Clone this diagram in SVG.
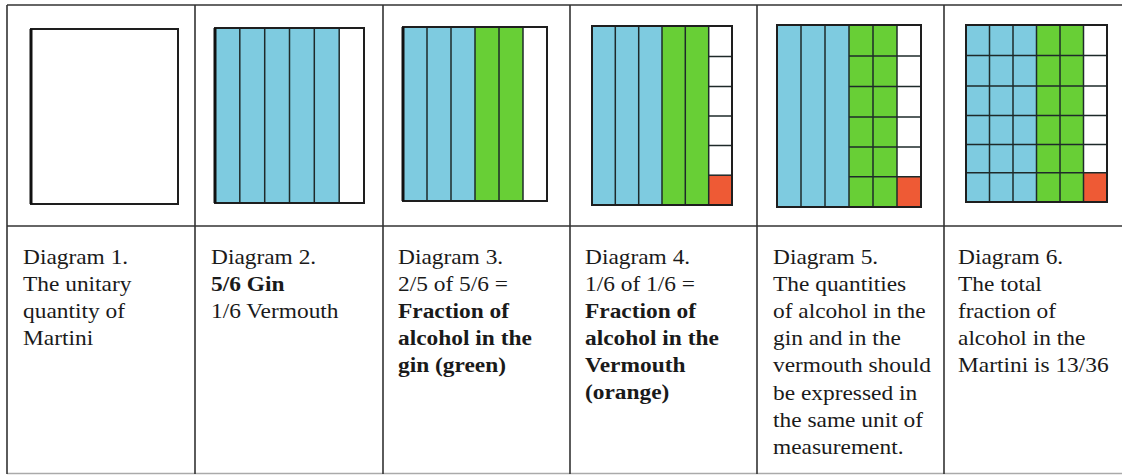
<svg xmlns="http://www.w3.org/2000/svg" width="1122" height="475" viewBox="0 0 1122 475">
<style>
.tbl{stroke:#333;stroke-width:1.6;fill:none}
.bot{stroke:#aaa;stroke-width:1.6}
.sq{fill:none;stroke:#1e1e1e;stroke-width:2}
.dv{stroke:#1e2a2a;stroke-width:1.5}
.b{fill:#7ecbe0}
.g{fill:#68cf36}
.o{fill:#ee5a35}
text{font-family:"Liberation Serif","Times New Roman",serif;font-size:20px;fill:#1a1a1a}
.bd{font-weight:bold}
</style>
<rect width="1122" height="475" fill="#fff"/>
<g id="table">
<line class="tbl" x1="7" y1="5" x2="1122" y2="5"/>
<line class="tbl" x1="7" y1="226" x2="1122" y2="226"/>
<line class="bot" x1="7" y1="473.5" x2="1122" y2="473.5"/>
<line class="tbl" x1="7" y1="5" x2="7" y2="474"/>
<line class="tbl" x1="195" y1="5" x2="195" y2="474"/>
<line class="tbl" x1="383" y1="5" x2="383" y2="474"/>
<line class="tbl" x1="570" y1="5" x2="570" y2="474"/>
<line class="tbl" x1="757" y1="5" x2="757" y2="474"/>
<line class="tbl" x1="944" y1="5" x2="944" y2="474"/>
</g>
<g id="diagram1">
<rect class="sq" x="31" y="29" width="147" height="175"/>
<line x1="31" y1="29" x2="31" y2="204" stroke="#111" stroke-width="3"/>
</g>
<g id="diagram2">
<rect class="b" x="215" y="28" width="124.2" height="175"/>
<line class="dv" x1="239.8" y1="28" x2="239.8" y2="203"/>
<line class="dv" x1="264.7" y1="28" x2="264.7" y2="203"/>
<line class="dv" x1="289.5" y1="28" x2="289.5" y2="203"/>
<line class="dv" x1="314.3" y1="28" x2="314.3" y2="203"/>
<line class="dv" x1="339.2" y1="28" x2="339.2" y2="203"/>
<rect class="sq" x="215" y="28" width="149" height="175"/>
<line x1="215" y1="28" x2="215" y2="203" stroke="#111" stroke-width="3"/>
</g>
<g id="diagram3">
<rect class="b" x="403" y="27" width="72" height="174"/>
<rect class="g" x="475" y="27" width="48" height="174"/>
<line class="dv" x1="427" y1="27" x2="427" y2="201"/>
<line class="dv" x1="451" y1="27" x2="451" y2="201"/>
<line class="dv" x1="475" y1="27" x2="475" y2="201"/>
<line class="dv" x1="499" y1="27" x2="499" y2="201"/>
<line class="dv" x1="523" y1="27" x2="523" y2="201"/>
<rect class="sq" x="403" y="27" width="144" height="174"/>
<line x1="403" y1="27" x2="403" y2="201" stroke="#111" stroke-width="3"/>
</g>
<g id="diagram4">
<rect class="b" x="592" y="26" width="70" height="179"/>
<rect class="g" x="662" y="26" width="46.7" height="179"/>
<rect class="o" x="708.7" y="175.2" width="23.3" height="29.8"/>
<line class="dv" x1="615.3" y1="26" x2="615.3" y2="205"/>
<line class="dv" x1="638.7" y1="26" x2="638.7" y2="205"/>
<line class="dv" x1="662" y1="26" x2="662" y2="205"/>
<line class="dv" x1="685.3" y1="26" x2="685.3" y2="205"/>
<line class="dv" x1="708.7" y1="26" x2="708.7" y2="205"/>
<line class="dv" x1="708.7" y1="56.5" x2="732" y2="56.5"/>
<line class="dv" x1="708.7" y1="86.5" x2="732" y2="86.5"/>
<line class="dv" x1="708.7" y1="116" x2="732" y2="116"/>
<line class="dv" x1="708.7" y1="145.5" x2="732" y2="145.5"/>
<line class="dv" x1="708.7" y1="175.2" x2="732" y2="175.2"/>
<rect class="sq" x="592" y="26" width="140" height="179"/>
</g>
<g id="diagram5">
<rect class="b" x="777" y="25" width="72" height="182"/>
<rect class="g" x="849" y="25" width="48" height="182"/>
<rect class="o" x="897" y="176.7" width="24" height="30.3"/>
<line class="dv" x1="801" y1="25" x2="801" y2="207"/>
<line class="dv" x1="825" y1="25" x2="825" y2="207"/>
<line class="dv" x1="849" y1="25" x2="849" y2="207"/>
<line class="dv" x1="873" y1="25" x2="873" y2="207"/>
<line class="dv" x1="897" y1="25" x2="897" y2="207"/>
<line class="dv" x1="849" y1="56" x2="921" y2="56"/>
<line class="dv" x1="849" y1="86.5" x2="921" y2="86.5"/>
<line class="dv" x1="849" y1="117" x2="921" y2="117"/>
<line class="dv" x1="849" y1="147" x2="921" y2="147"/>
<line class="dv" x1="849" y1="176.7" x2="921" y2="176.7"/>
<rect class="sq" x="777" y="25" width="144" height="182"/>
</g>
<g id="diagram6">
<rect class="b" x="966" y="25" width="70.5" height="177"/>
<rect class="g" x="1036.5" y="25" width="47" height="177"/>
<rect class="o" x="1083.5" y="172.8" width="23.5" height="29.2"/>
<line class="dv" x1="989.5" y1="25" x2="989.5" y2="202"/>
<line class="dv" x1="1013" y1="25" x2="1013" y2="202"/>
<line class="dv" x1="1036.5" y1="25" x2="1036.5" y2="202"/>
<line class="dv" x1="1060" y1="25" x2="1060" y2="202"/>
<line class="dv" x1="1083.5" y1="25" x2="1083.5" y2="202"/>
<line class="dv" x1="966" y1="55.5" x2="1107" y2="55.5"/>
<line class="dv" x1="966" y1="86" x2="1107" y2="86"/>
<line class="dv" x1="966" y1="115.5" x2="1107" y2="115.5"/>
<line class="dv" x1="966" y1="144.5" x2="1107" y2="144.5"/>
<line class="dv" x1="966" y1="172.8" x2="1107" y2="172.8"/>
<rect class="sq" x="966" y="25" width="141" height="177"/>
</g>
<g id="caption1" transform="translate(23,0) scale(1.17,1)">
<text x="0" y="264">Diagram 1.</text>
<text x="0" y="291">The unitary</text>
<text x="0" y="318">quantity of</text>
<text x="0" y="345">Martini</text>
</g>
<g id="caption2" transform="translate(211,0) scale(1.17,1)">
<text x="0" y="264">Diagram 2.</text>
<text x="0" y="291" class="bd">5/6 Gin</text>
<text x="0" y="318">1/6 Vermouth</text>
</g>
<g id="caption3" transform="translate(398,0) scale(1.17,1)">
<text x="0" y="264">Diagram 3.</text>
<text x="0" y="291">2/5 of 5/6 =</text>
<text x="0" y="318" class="bd">Fraction of</text>
<text x="0" y="345" class="bd">alcohol in the</text>
<text x="0" y="372" class="bd">gin (green)</text>
</g>
<g id="caption4" transform="translate(585,0) scale(1.17,1)">
<text x="0" y="264">Diagram 4.</text>
<text x="0" y="291">1/6 of 1/6 =</text>
<text x="0" y="318" class="bd">Fraction of</text>
<text x="0" y="345" class="bd">alcohol in the</text>
<text x="0" y="372" class="bd">Vermouth</text>
<text x="0" y="399" class="bd">(orange)</text>
</g>
<g id="caption5" transform="translate(773,0) scale(1.17,1)">
<text x="0" y="264">Diagram 5.</text>
<text x="0" y="291">The quantities</text>
<text x="0" y="318">of alcohol in the</text>
<text x="0" y="345">gin and in the</text>
<text x="0" y="372">vermouth should</text>
<text x="0" y="400">be expressed in</text>
<text x="0" y="427">the same unit of</text>
<text x="0" y="454">measurement.</text>
</g>
<g id="caption6" transform="translate(958,0) scale(1.17,1)">
<text x="0" y="264">Diagram 6.</text>
<text x="0" y="291">The total</text>
<text x="0" y="318">fraction of</text>
<text x="0" y="345">alcohol in the</text>
<text x="0" y="372">Martini is 13/36</text>
</g>
</svg>
